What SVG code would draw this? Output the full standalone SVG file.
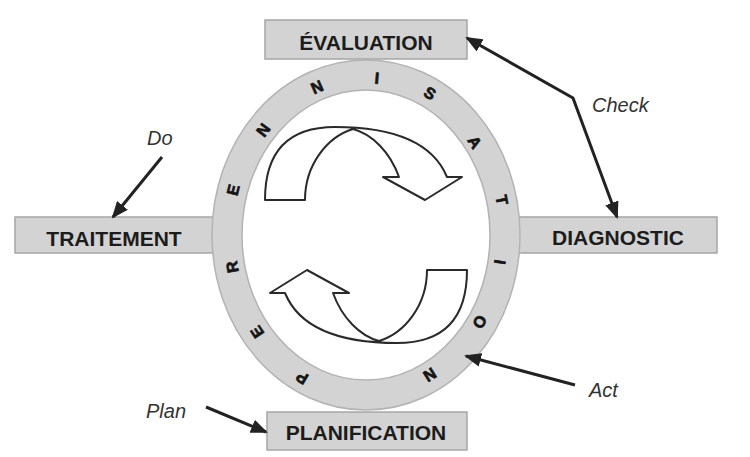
<svg xmlns="http://www.w3.org/2000/svg" width="750" height="457" viewBox="0 0 750 457">
<defs>
<style>
.box{fill:#d3d3d3;stroke:#a6a6a6;stroke-width:1.5}
.bt{font-family:"Liberation Sans",Arial,sans-serif;font-weight:bold;font-size:21px;fill:#1c1c1c;text-anchor:middle}
.lbl{font-family:"Liberation Sans",Arial,sans-serif;font-style:italic;font-size:20px;fill:#333}
.rl{font-family:"Liberation Sans",Arial,sans-serif;font-weight:bold;font-size:16px;fill:#151515;stroke:#151515;stroke-width:0.7;text-anchor:middle}
.cn{fill:none;stroke:#222;stroke-width:3}
.ca{fill:#fff;stroke:#2a2a2a;stroke-width:2;stroke-linejoin:round}
</style>
<marker id="ah" markerUnits="userSpaceOnUse" markerWidth="17" markerHeight="14" refX="15" refY="7" orient="auto-start-reverse" viewBox="0 0 17 14">
<path d="M0,0 L17,7 L0,14 z" fill="#222"/>
</marker>
</defs>
<rect width="750" height="457" fill="#fff"/>

<g id="traitement">
<rect class="box" x="15" y="217" width="202" height="36"/>
<text class="bt" x="114" y="246">TRAITEMENT</text>
</g>
<g id="diagnostic">
<rect class="box" x="516" y="217" width="201" height="36"/>
<text class="bt" x="618" y="245">DIAGNOSTIC</text>
</g>

<g id="ring">
<path d="M212,235 a154,175 0 1,0 308,0 a154,175 0 1,0 -308,0 z M242,235 a124,145 0 1,0 248,0 a124,145 0 1,0 -248,0 z" fill="#d3d3d3" fill-rule="evenodd" stroke="#b3b3b3" stroke-width="1.5"/>
<g>
<text class="rl" transform="translate(302,378) rotate(-149)" dy="0.36em">P</text>
<text class="rl" transform="translate(257,332) rotate(-123.5)" dy="0.36em">E</text>
<text class="rl" transform="translate(232,267) rotate(-100)" dy="0.36em">R</text>
<text class="rl" transform="translate(233,190) rotate(-76)" dy="0.36em">E</text>
<text class="rl" transform="translate(263,130) rotate(-53)" dy="0.36em">N</text>
<text class="rl" transform="translate(317,87) rotate(-24)" dy="0.36em">N</text>
<text class="rl" transform="translate(377,78) rotate(5)" dy="0.36em">I</text>
<text class="rl" transform="translate(430,93) rotate(31)" dy="0.36em">S</text>
<text class="rl" transform="translate(475,142) rotate(58)" dy="0.36em">A</text>
<text class="rl" transform="translate(502,200) rotate(79)" dy="0.36em">T</text>
<text class="rl" transform="translate(500,262) rotate(98.5)" dy="0.36em">I</text>
<text class="rl" transform="translate(480,322) rotate(120)" dy="0.36em">O</text>
<text class="rl" transform="translate(430,375) rotate(148)" dy="0.36em">N</text>
</g>
</g>

<g id="cycle-arrows">
<path id="upper-arrow" class="ca" d="M265,200 C265,145 295,127 335,127 C395,127 433,143 447,177 L462,177 L425,200 L383,177 L399,177 C390,152 372,134 353,129 C327,137 305,165 305,200 Z"/>
<path id="lower-arrow" class="ca" transform="rotate(180 366 235)" d="M265,200 C265,145 295,127 335,127 C395,127 433,143 447,177 L462,177 L425,200 L383,177 L399,177 C390,152 372,134 353,129 C327,137 305,165 305,200 Z"/>
</g>

<g id="evaluation">
<rect class="box" x="265" y="20" width="202" height="39"/>
<text class="bt" x="366" y="50">ÉVALUATION</text>
</g>
<g id="planification">
<rect class="box" x="267" y="412" width="200" height="38"/>
<text class="bt" x="366" y="440">PLANIFICATION</text>
</g>

<g id="connectors">
<line class="cn" x1="162" y1="157" x2="113" y2="217" marker-end="url(#ah)"/>
<polyline class="cn" points="467,38 573,98 617,217" marker-start="url(#ah)" marker-end="url(#ah)"/>
<line class="cn" x1="575" y1="385" x2="466" y2="356" marker-end="url(#ah)"/>
<line class="cn" x1="206" y1="407" x2="266" y2="432" marker-end="url(#ah)"/>
</g>

<g id="labels">
<text class="lbl" x="147" y="145">Do</text>
<text class="lbl" x="592" y="112">Check</text>
<text class="lbl" x="589" y="397">Act</text>
<text class="lbl" x="146" y="418">Plan</text>
</g>
</svg>
